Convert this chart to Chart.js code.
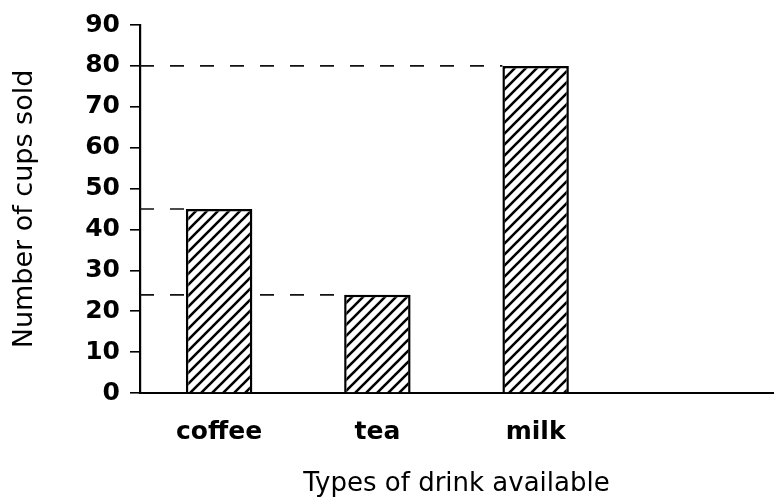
<!DOCTYPE html>
<html>
<head>
<meta charset="utf-8">
<script src="https://cdn.jsdelivr.net/npm/chart.js@4"></script>
<style>
  html, body { margin: 0; background: #fff; }
  #wrap { width: 774px; height: 500px; }
</style>
</head>
<body>
<div id="wrap"><canvas id="chart"></canvas></div>
<script>
// data; the empty 4th category is the blank space on the right
const drinks = ['coffee', 'tea', 'milk', ''];
const cupsSold = [45, 24, 80, null];
const yMin = 0;
const yMax = 90;
const yStep = 10;

const canvas = document.getElementById('chart');

// "/" hatching for the bars
function makeHatch() {
  const s = 11;
  const tile = document.createElement('canvas');
  tile.width = s;
  tile.height = s;
  const g = tile.getContext('2d');
  g.fillStyle = '#fff';
  g.fillRect(0, 0, s, s);
  g.strokeStyle = '#000';
  g.lineWidth = 2.6;
  g.beginPath();
  g.moveTo(-2, s + 2); g.lineTo(s + 2, -2);
  g.moveTo(-2, 2); g.lineTo(2, -2);
  g.moveTo(s - 2, s + 2); g.lineTo(s + 2, s - 2);
  g.stroke();
  return canvas.getContext('2d').createPattern(tile, 'repeat');
}

// dashed lines from the y axis across to each bar top
const guideLines = {
  id: 'guideLines',
  beforeDatasetsDraw(chart) {
    const {ctx, chartArea, scales: {y}} = chart;
    const meta = chart.getDatasetMeta(0);
    ctx.save();
    ctx.strokeStyle = '#111';
    ctx.lineWidth = 1.6;
    ctx.setLineDash([14, 16]);
    meta.data.forEach((bar, i) => {
      if (cupsSold[i] == null) return;
      const py = y.getPixelForValue(cupsSold[i]);
      ctx.beginPath();
      ctx.moveTo(chartArea.left, py);
      ctx.lineTo(bar.x - bar.width / 2, py);
      ctx.stroke();
    });
    ctx.restore();
  }
};

new Chart(canvas, {
  type: 'bar',
  data: {
    labels: drinks,
    datasets: [{
      data: cupsSold,
      backgroundColor: makeHatch(),
      borderColor: '#000',
      borderWidth: 2.5,
      barPercentage: 0.42,
      categoryPercentage: 1
    }]
  },
  options: {
    responsive: true,
    maintainAspectRatio: false,
    animation: false,
    layout: { padding: { top: 21, right: 1, bottom: 0, left: 0 } },
    plugins: {
      legend: { display: false },
      tooltip: { enabled: false }
    },
    scales: {
      x: {
        grid: { display: true, drawOnChartArea: false, drawTicks: false },
        border: { display: true, color: '#000', width: 2 },
        ticks: {
          color: '#000',
          padding: 24,
          font: { family: 'DejaVu Sans', size: 25, weight: 'bold' }
        },
        title: {
          display: true,
          text: 'Types of drink available',
          color: '#000',
          padding: { top: 0, bottom: 0 },
          font: { family: 'DejaVu Sans', size: 26 }
        },
        afterFit: (scale) => { scale.height = 107; }
      },
      y: {
        min: yMin,
        max: yMax,
        grid: {
          display: true,
          drawOnChartArea: false,
          drawTicks: true,
          tickLength: 10,
          color: '#000',
          lineWidth: 1.6
        },
        border: { display: true, color: '#000', width: 2.2 },
        ticks: {
          stepSize: yStep,
          color: '#000',
          padding: 10,
          font: { family: 'DejaVu Sans', size: 25, weight: 'bold' }
        },
        title: {
          display: true,
          text: 'Number of cups sold',
          color: '#000',
          padding: { top: 9, bottom: 0 },
          font: { family: 'DejaVu Sans', size: 27 }
        },
        afterFit: (scale) => { scale.width = 140; }
      }
    }
  },
  plugins: [guideLines]
});
</script>
</body>
</html>
